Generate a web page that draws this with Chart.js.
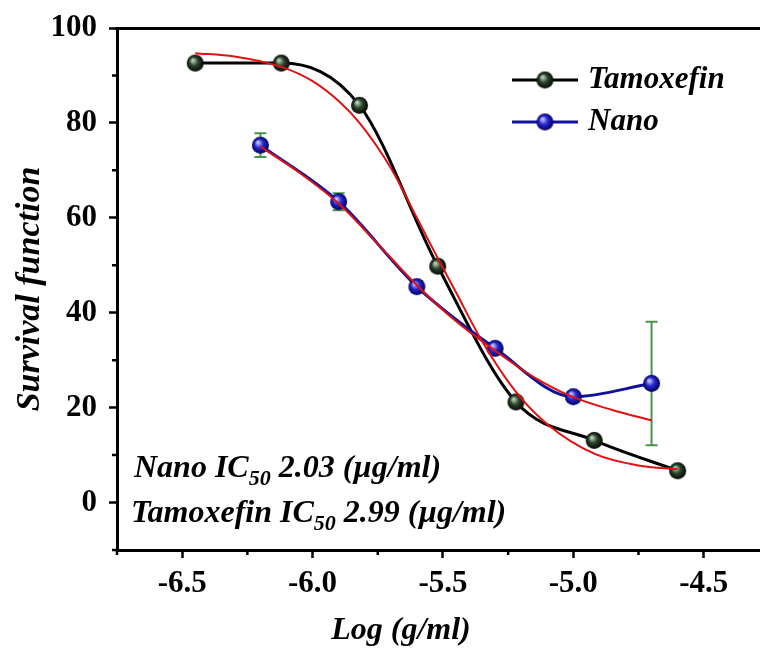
<!DOCTYPE html>
<html>
<head>
<meta charset="utf-8">
<script src="https://cdn.jsdelivr.net/npm/chart.js@4.4.1/dist/chart.umd.min.js"></script>
<style>
  html, body { margin: 0; padding: 0; background: #fff; }
</style>
</head>
<body>
<canvas id="chart" width="760" height="655"></canvas>
<script>
// measured points
const tamoxX = [-6.45, -6.12, -5.82, -5.52, -5.22, -4.92, -4.60];
const tamoxY = [92.6, 92.6, 83.7, 49.8, 21.2, 13.1, 6.7];
const nanoX = [-6.2, -5.9, -5.6, -5.3, -5.0, -4.7];
const nanoY = [75.3, 63.4, 45.5, 32.5, 22.3, 25.1];
const nanoErr = [2.5, 1.8, 1.2, 1.0, 1.0, 13.0];

// red fitted curves
const tamoxFitX = [-6.45, -6.30, -6.12, -6.00, -5.90, -5.82, -5.70, -5.60, -5.52, -5.45, -5.35, -5.22, -5.10, -4.92, -4.75, -4.60];
const tamoxFitY = [94.7, 94.0, 91.8, 88.8, 84.6, 80.0, 70.5, 60.0, 51.5, 44.3, 34.0, 23.3, 16.5, 10.3, 7.8, 7.0];
const nanoFitX = [-6.2, -6.05, -5.9, -5.75, -5.6, -5.45, -5.3, -5.15, -5.0, -4.85, -4.7];
const nanoFitY = [75.0, 69.5, 63.0, 54.5, 45.8, 38.2, 32.0, 26.4, 22.2, 19.5, 17.3];

const xMajor = [-6.5, -6.0, -5.5, -5.0, -4.5];
const xMinor = [-6.75, -6.25, -5.75, -5.25, -4.75];
const yMajor = [0, 20, 40, 60, 80, 100];
const yMinor = [-10, 10, 30, 50, 70, 90];

const serif = "'Liberation Serif', 'Times New Roman', serif";

function sphere(r, light, mid, dark) {
  const c = document.createElement('canvas');
  c.width = c.height = 2 * r + 2;
  const g = c.getContext('2d');
  const cx = r + 1, cy = r + 1;
  const grad = g.createRadialGradient(cx - r * 0.3, cy - r * 0.35, r * 0.1, cx, cy, r);
  grad.addColorStop(0, light);
  grad.addColorStop(0.45, mid);
  grad.addColorStop(1, dark);
  g.fillStyle = grad;
  g.beginPath();
  g.arc(cx, cy, r, 0, Math.PI * 2);
  g.fill();
  return c;
}
const blackBall = sphere(8.5, '#b8d0b8', '#2d452d', '#030603');
const blueBall = sphere(8.5, '#c0c0ff', '#2828d0', '#00005a');

const toPts = (xs, ys) => xs.map((v, i) => ({ x: v, y: ys[i] }));

const decor = {
  id: 'decor',
  beforeDatasetsDraw(chart) {
    const { ctx, scales: { x, y } } = chart;
    ctx.save();
    ctx.strokeStyle = '#4a934a';
    ctx.lineWidth = 2;
    nanoX.forEach((v, i) => {
      const px = x.getPixelForValue(v);
      const t = y.getPixelForValue(nanoY[i] + nanoErr[i]);
      const b = y.getPixelForValue(nanoY[i] - nanoErr[i]);
      ctx.beginPath();
      ctx.moveTo(px, t); ctx.lineTo(px, b);
      ctx.moveTo(px - 6, t); ctx.lineTo(px + 6, t);
      ctx.moveTo(px - 6, b); ctx.lineTo(px + 6, b);
      ctx.stroke();
    });
    ctx.restore();
  },
  afterDraw(chart) {
    const { ctx, chartArea: a, scales: { x, y } } = chart;
    ctx.save();
    // frame lines run out to the canvas edge
    const topY = Math.round(a.top - 1.5) + 1.5;
    const botY = Math.round(a.bottom - 1.5) + 1.5;
    ctx.strokeStyle = '#000';
    ctx.lineWidth = 3;
    ctx.beginPath();
    ctx.moveTo(a.left - 1.5, topY);
    ctx.lineTo(chart.width, topY);
    ctx.moveTo(a.right - 2, botY);
    ctx.lineTo(chart.width, botY);
    ctx.stroke();
    // minor ticks
    ctx.lineWidth = 2.5;
    ctx.beginPath();
    xMinor.forEach(v => {
      const px = x.getPixelForValue(v);
      ctx.moveTo(px, a.bottom); ctx.lineTo(px, a.bottom + 5);
    });
    yMinor.forEach(v => {
      const py = y.getPixelForValue(v);
      ctx.moveTo(a.left, py); ctx.lineTo(a.left - 5, py);
    });
    ctx.stroke();

    // legend
    const items = [
      { label: 'Tamoxefin', color: '#000', ball: blackBall, yy: a.top + 52 },
      { label: 'Nano', color: '#10109a', ball: blueBall, yy: a.top + 94 }
    ];
    ctx.font = `italic bold 31px ${serif}`;
    ctx.textBaseline = 'middle';
    items.forEach(it => {
      ctx.strokeStyle = it.color;
      ctx.lineWidth = 3;
      ctx.beginPath();
      ctx.moveTo(512, it.yy); ctx.lineTo(578, it.yy);
      ctx.stroke();
      ctx.drawImage(it.ball, 545 - it.ball.width / 2, it.yy - it.ball.height / 2);
      ctx.fillStyle = '#000';
      ctx.fillText(it.label, 588, it.yy);
    });

    // IC50 notes
    const note = (x0, base, name, val) => {
      ctx.textBaseline = 'alphabetic';
      ctx.font = `italic bold 32px ${serif}`;
      ctx.fillText(name + ' IC', x0, base);
      let cx = x0 + ctx.measureText(name + ' IC').width;
      ctx.font = `italic bold 22px ${serif}`;
      ctx.fillText('50', cx, base + 8);
      cx += ctx.measureText('50').width;
      ctx.font = `italic bold 32px ${serif}`;
      ctx.fillText(' ' + val + ' (\u00b5g/ml)', cx, base);
    };
    note(134, 477, 'Nano', '2.03');
    note(131, 522, 'Tamoxefin', '2.99');

    // axis titles
    ctx.font = `italic bold 32px ${serif}`;
    ctx.textAlign = 'center';
    ctx.textBaseline = 'middle';
    ctx.fillText('Log (g/ml)', 401, 631);
    ctx.font = `italic bold 34px ${serif}`;
    ctx.translate(30, (a.top + a.bottom) / 2);
    ctx.rotate(-Math.PI / 2);
    ctx.fillText('Survival function', 0, 0);
    ctx.restore();
  }
};

new Chart(document.getElementById('chart'), {
  type: 'line',
  data: {
    datasets: [
      {
        label: 'Tamoxefin fit',
        data: toPts(tamoxFitX, tamoxFitY),
        borderColor: '#e21010',
        borderWidth: 2,
        pointRadius: 0,
        cubicInterpolationMode: 'monotone',
        order: 0
      },
      {
        label: 'Nano fit',
        data: toPts(nanoFitX, nanoFitY),
        borderColor: '#e21010',
        borderWidth: 2,
        pointRadius: 0,
        cubicInterpolationMode: 'monotone',
        order: 0
      },
      {
        label: 'Tamoxefin',
        data: toPts(tamoxX, tamoxY),
        borderColor: '#000',
        borderWidth: 3,
        pointStyle: blackBall,
        cubicInterpolationMode: 'monotone',
        order: 2
      },
      {
        label: 'Nano',
        data: toPts(nanoX, nanoY),
        borderColor: '#10109a',
        borderWidth: 3,
        pointStyle: blueBall,
        cubicInterpolationMode: 'monotone',
        order: 1
      }
    ]
  },
  options: {
    responsive: false,
    animation: false,
    layout: { padding: { top: 28, right: 0, left: 0, bottom: 0 } },
    plugins: { legend: { display: false }, tooltip: { enabled: false } },
    scales: {
      x: {
        type: 'linear',
        min: -6.75,
        max: -4.311,
        afterBuildTicks: s => { s.ticks = xMajor.map(v => ({ value: v })); },
        afterFit: s => { s.height = 105; s.paddingLeft = 0; s.paddingRight = 0; },
        grid: { drawOnChartArea: false, tickLength: 8, tickWidth: 2.5, tickColor: '#000' },
        border: { color: '#000', width: 3 },
        ticks: {
          color: '#000',
          padding: 7,
          maxRotation: 0,
          font: { family: serif, size: 31, weight: 'bold' },
          callback: v => v.toFixed(1)
        }
      },
      y: {
        min: -10,
        max: 100,
        afterBuildTicks: s => { s.ticks = yMajor.map(v => ({ value: v })); },
        afterFit: s => { s.width = 117; s.paddingTop = 0; s.paddingBottom = 0; },
        grid: { drawOnChartArea: false, tickLength: 8, tickWidth: 2.5, tickColor: '#000' },
        border: { color: '#000', width: 3 },
        ticks: {
          color: '#000',
          padding: 12,
          font: { family: serif, size: 31, weight: 'bold' }
        }
      }
    }
  },
  plugins: [decor]
});
</script>
</body>
</html>
